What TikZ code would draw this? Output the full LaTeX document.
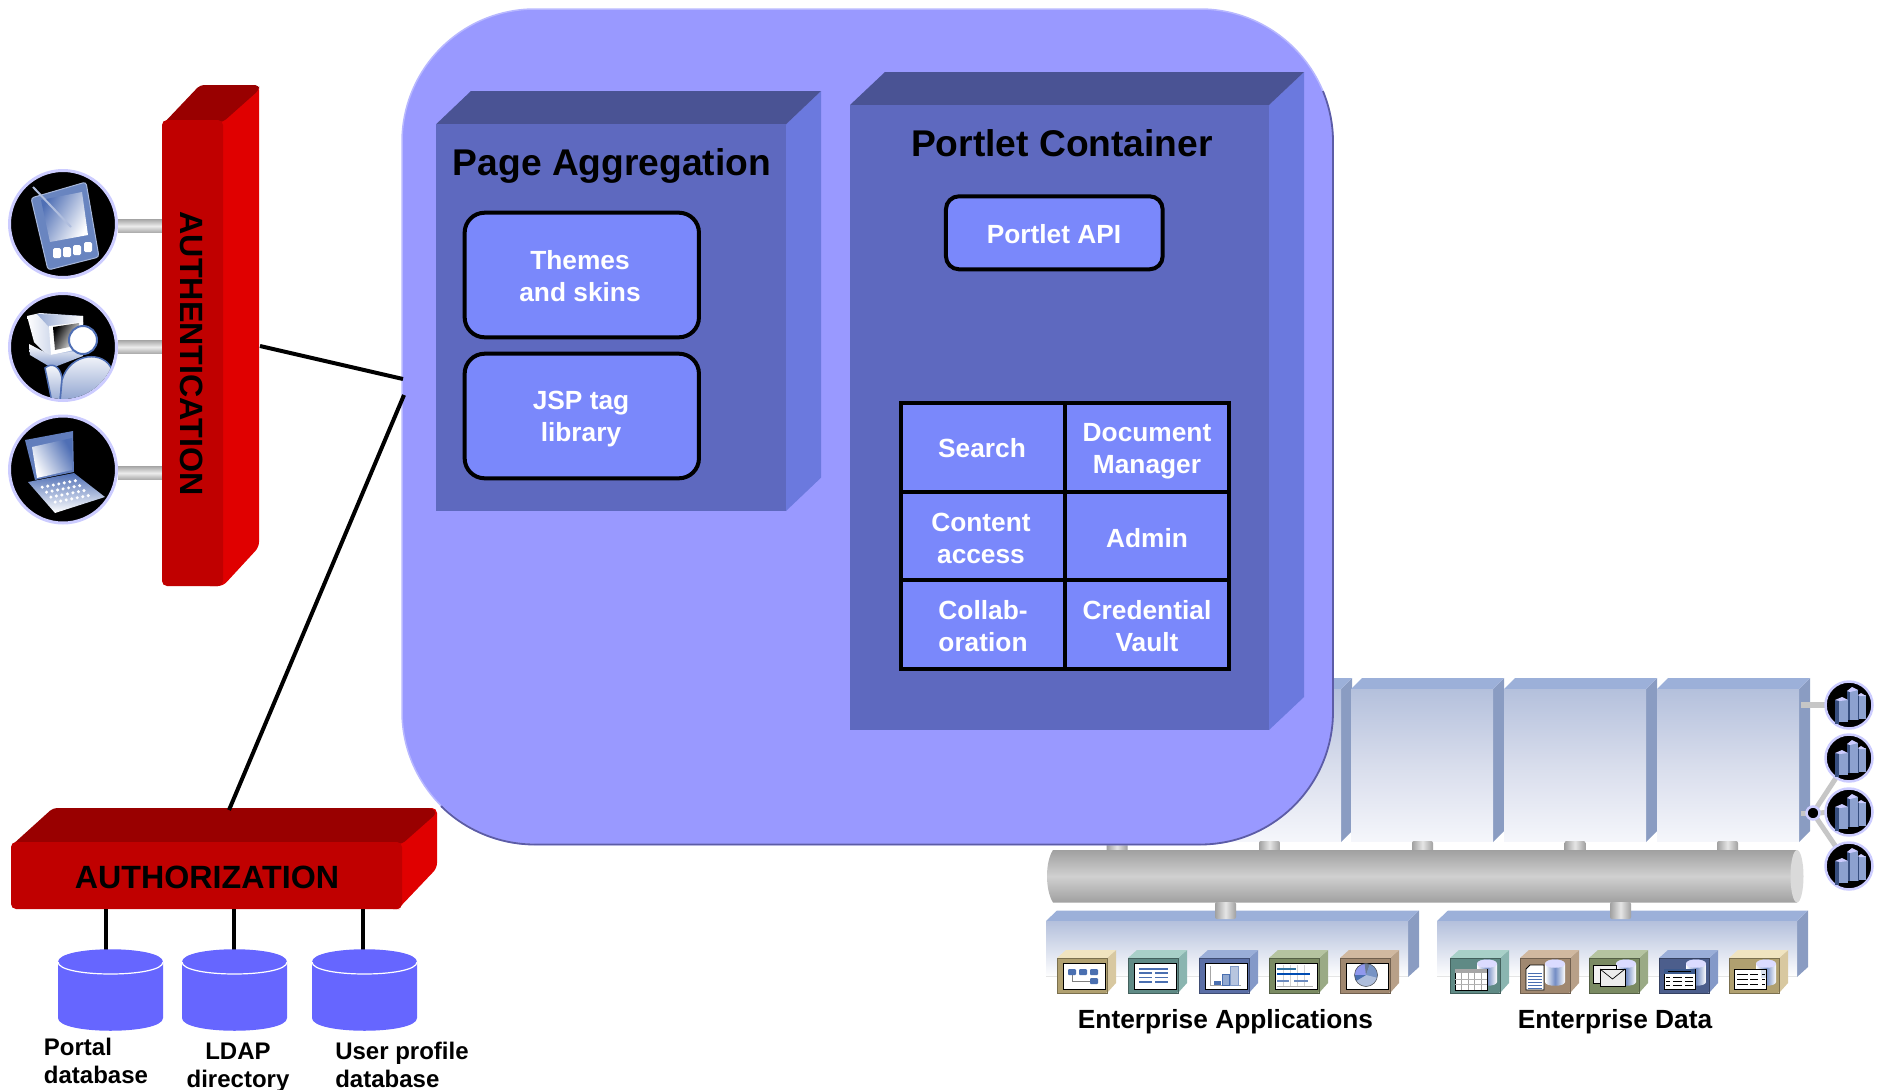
\documentclass[tikz,border=0pt]{standalone}
\usepackage{fontspec}
\setmainfont{Liberation Sans}
\definecolor{mainF}{HTML}{9999FF}
\definecolor{mainD}{HTML}{5C5CA6}
\definecolor{mainL}{HTML}{B8B8FF}
\definecolor{boxF}{HTML}{5E69BF}
\definecolor{boxT}{HTML}{4A5394}
\definecolor{boxS}{HTML}{6B79DE}
\definecolor{inner}{HTML}{7A88FB}
\definecolor{redF}{HTML}{C00000}
\definecolor{redS}{HTML}{E00000}
\definecolor{redT}{HTML}{990000}
\definecolor{dbF}{HTML}{6666FF}
\definecolor{ring}{HTML}{CCCCFF}
\definecolor{colT}{HTML}{9CB0D9}
\definecolor{colS}{HTML}{8A9CC2}
\definecolor{colA}{HTML}{B4C0DC}
\definecolor{colM}{HTML}{D8DDEC}
\definecolor{colB}{HTML}{F5F6FB}
\definecolor{busE}{HTML}{A0A0A0}
\definecolor{busM}{HTML}{D0D0D0}
\definecolor{busC}{HTML}{DADADA}
\definecolor{iconB}{HTML}{4F6FB5}
\definecolor{chart}{HTML}{4A6FB0}
\definecolor{tanF}{HTML}{B0A070}\definecolor{tanT}{HTML}{F0E4C0}\definecolor{tanS}{HTML}{D8C8A0}
\definecolor{tealF}{HTML}{5F8A85}\definecolor{tealT}{HTML}{A8D0C8}\definecolor{tealS}{HTML}{8AB5B0}
\definecolor{bluF}{HTML}{5A6EA5}\definecolor{bluT}{HTML}{9AAED8}\definecolor{bluS}{HTML}{8499C8}
\definecolor{grnF}{HTML}{7A8A62}\definecolor{grnT}{HTML}{B5C4A0}\definecolor{grnS}{HTML}{9AAA85}
\definecolor{brnF}{HTML}{A08870}\definecolor{brnT}{HTML}{D0B8A0}\definecolor{brnS}{HTML}{B8A088}
\tikzset{
  x=1pt,y=-1pt,
  big/.style={font=\bfseries\fontsize{37.2}{44}\selectfont,inner sep=0pt,text=black},
  bar/.style={font=\bfseries\fontsize{32.2}{38}\selectfont,inner sep=0pt,text=black},
  wtxt/.style={font=\bfseries\fontsize{26.3}{32}\selectfont,inner sep=0pt,text=white,align=center},
  btxt/.style={font=\bfseries\fontsize{24}{28}\selectfont,inner sep=0pt,text=black},
  etxt/.style={font=\bfseries\fontsize{26.3}{31}\selectfont,inner sep=0pt,text=black},
  rbox/.style={draw=black,line width=4pt,fill=inner,rounded corners=20pt,inner sep=0pt},
  cell/.style={draw=black,line width=4pt,fill=inner,inner sep=0pt,minimum height=88.7pt,minimum width=163.7pt},
  wire/.style={draw=black,line width=4pt},
  graystub/.style={shading=axis,left color=busE,right color=busE,middle color=gray!20,shading angle=90},
  graystubh/.style={top color=busE!90,bottom color=busE!90,middle color=gray!15},
}
% prism: x1 y1 x2 y2 dx dy front top side
\newcommand\pvPrism[9]{%
  \fill[#8] (#3,#2)--(#3+#5,#2-#6)--(#3+#5,#4-#6)--(#3,#4)--cycle;
  \fill[#9] (#1,#2)--(#1+#5,#2-#6)--(#3+#5,#2-#6)--(#3,#2)--cycle;
  \fill[#7] (#1,#2) rectangle (#3,#4);}
\newcommand\pvIcon[4]{%
  \fill[#3] (50,0)--(59,-8)--(59,25)--(50,35)--cycle;
  \fill[#4] (0,0)--(9,-8)--(59,-8)--(50,0)--cycle;
  \fill[#2,rounded corners=1pt] (0,0) rectangle (50,35);
  \draw[#1!70!black,line width=.5pt] (0,0) rectangle (50,35);}
\newcommand\pvScreen{\fill[white,draw=black,line width=1pt] (6,5) rectangle (48,31);}
\newcommand\pvDb[1]{%
  \shade[left color=white,right color=white,middle color=iconB!80,shading angle=90]
    (#1,6) .. controls (#1,0) and (#1+20,0) .. (#1+20,6) -- (#1+20,24)
    .. controls (#1+20,29) and (#1,29) .. (#1,24) -- cycle;
  \fill[ring!70!white] (#1,6) .. controls (#1,0) and (#1+20,0) .. (#1+20,6) .. controls (#1+20,11) and (#1,11) .. (#1,6) -- cycle;}
\newcommand\pvBuild[2]{%
  \begin{scope}[shift={(#1,#2)}]
    \fill[black] (0,0) circle[radius=23.5pt];
    \draw[ring,line width=2.5pt] (0,0) circle[radius=23.5pt];
    \fill[iconB!70!black] (-2,-14) rectangle (1,15);
    \fill[iconB!65!white] (1,-15) rectangle (9,15);
    \fill[ring] (-2,-14)--(3,-18)--(9,-15)--(1,-13)--cycle;
    \fill[iconB!70!black] (9,-10) rectangle (10,15);
    \fill[iconB!65!white] (10,-10) rectangle (17,14);
    \fill[ring] (9,-10)--(12,-12)--(17,-9)--(10,-9)--cycle;
    \fill[iconB!70!black] (-14,-5) rectangle (-10,19);
    \fill[iconB!65!white] (-10,-5) rectangle (-1,17);
    \fill[ring] (-14,-5)--(-7,-8)--(-1,-5)--(-9,-4)--cycle;
  \end{scope}}
\begin{document}
\begin{tikzpicture}
\useasboundingbox (0,0) rectangle (1883,1090);
% ---------- back-end columns
\foreach \cx in {1046,1199,1351,1504,1657}{
  \fill[colS] (\cx+142,689)--(\cx+153,678)--(\cx+153,831)--(\cx+142,842)--cycle;
  \fill[colT] (\cx,689)--(\cx+11,678)--(\cx+153,678)--(\cx+142,689)--cycle;
  \shade[top color=colA,bottom color=colB,middle color=colM] (\cx,689) rectangle (\cx+142,841.5);
}
\foreach \sx in {1117,1269.5,1422.5,1575,1727.5}{
  \shade[graystub,rounded corners=2pt] (\sx-10.5,841) rectangle (\sx+10.5,856);
}
% ---------- bus
\shade[top color=busE,bottom color=busE,middle color=busM] (1053,850) .. controls (1045,862) and (1045,890) .. (1053,902.5) -- (1797,902.5) -- (1797,850) -- cycle;
\fill[busC] (1797,876.25) ellipse[x radius=6.5pt,y radius=26.25pt];
% ---------- lower boxes
\fill[colS] (1408,921)--(1419,910.5)--(1419,967)--(1408,977)--cycle;
\fill[colT] (1046,921)--(1057,910.5)--(1419,910.5)--(1408,921)--cycle;
\shade[top color=colA,bottom color=white] (1046,921) rectangle (1408,977);
\fill[gray!20] (1046,975.5) rectangle (1408,977);
\fill[colS] (1797,921)--(1808,910.5)--(1808,967)--(1797,977)--cycle;
\fill[colT] (1437,921)--(1448,910.5)--(1808,910.5)--(1797,921)--cycle;
\shade[top color=colA,bottom color=white] (1437,921) rectangle (1797,977);
\fill[gray!20] (1437,975.5) rectangle (1797,977);
\shade[graystub,rounded corners=2pt] (1215,902) rectangle (1236,919);
\shade[graystub,rounded corners=2pt] (1610,902) rectangle (1631,919);
% ---------- application icons
\begin{scope}[shift={(1057,958)}]
  \pvIcon{tanF}{tanF}{tanS}{tanT}\pvScreen
  \draw[gray,line width=.8pt] (15,16)--(15,23)--(34,23);
  \foreach \bx in {11,22,33}{\fill[chart,rounded corners=1pt] (\bx,11) rectangle (\bx+8,17);}
  \fill[chart,rounded corners=1pt] (33,20) rectangle (41,26);
\end{scope}
\begin{scope}[shift={(1128,958)}]
  \pvIcon{tealF}{tealF}{tealS}{tealT}\pvScreen
  \draw[chart,line width=1.3pt] (11,11)--(40,11);
  \foreach \ly in {15,19.5,24}{\draw[chart,line width=1.3pt] (11,\ly)--(24,\ly) (27,\ly)--(40,\ly);}
\end{scope}
\begin{scope}[shift={(1199,958)}]
  \pvIcon{bluF}{bluF}{bluS}{bluT}\pvScreen
  \draw[gray!70,line width=.6pt] (11,8)--(11,27)--(42,27);
  \fill[chart] (15,23) rectangle (22,27);
  \fill[chart!60,draw=chart,line width=.4pt] (23,16) rectangle (30,27);
  \fill[chart!40,draw=chart!70,line width=.4pt] (31,8) rectangle (39,27);
\end{scope}
\begin{scope}[shift={(1269,958)}]
  \pvIcon{grnF}{grnF}{grnS}{grnT}\pvScreen
  \foreach \gx in {14,21,28,35}{\draw[gray!35,line width=.5pt] (\gx,7)--(\gx,29);}
  \draw[gray!60,line width=.5pt] (8,28)--(44,28);
  \fill[chart!70!teal] (8,9.5) rectangle (27,11.5);
  \fill[blue!40!teal] (8,15) rectangle (41,17);
  \fill[chart!80] (8,21.5) rectangle (20,23.5);
  \fill[chart!80] (25,21.5) rectangle (39,23.5);
\end{scope}
\begin{scope}[shift={(1340,958)}]
  \pvIcon{brnF}{brnF}{brnS}{brnT}\pvScreen
  \begin{scope}
    \clip (26,17) circle[radius=11.5pt];
    \fill[chart!65] (26,17) circle[radius=12pt];
    \fill[chart!45!blue!50] (26,17)--(24,0)--(10,0)--(10,17)--(14,17)--cycle;
    \fill[chart!40!gray] (26,17)--(24,0)--(32,0)--cycle;
    \fill[chart!75] (26,17)--(32,0)--(42,0)--(42,21)--cycle;
    \fill[chart!45] (26,17)--(42,21)--(38,32)--(14,32)--(16,23)--cycle;
    \fill[chart] (26,17)--(16,23)--(10,28)--(10,17)--(14,17)--cycle;
  \end{scope}
  \draw[black!70,line width=.5pt] (26,17) circle[radius=11.5pt];
\end{scope}
% ---------- data icons
\begin{scope}[shift={(1450,958)}]
  \pvIcon{tealF}{tealF}{tealS}{tealT}\pvDb{27}
  \fill[white,draw=black,line width=.8pt] (5,11) rectangle (37,32);
  \fill[gray!70] (5,11) rectangle (37,15);
  \foreach \gx in {11.5,18,24.5,31}{\draw[gray!70,line width=.5pt] (\gx,11)--(\gx,32);}
  \draw[gray!60,line width=.5pt] (5,21)--(37,21) (5,26.5)--(37,26.5);
\end{scope}
\begin{scope}[shift={(1520,958)}]
  \pvIcon{brnF}{brnF}{brnS}{brnT}\pvDb{25}
  \fill[white,draw=black,line width=.8pt] (10,7)--(24,7)--(24,32)--(6,32)--(6,11)--cycle;
  \foreach \ly in {15,18,21,24,27,30}{\draw[chart,line width=1pt] (8,\ly)--(22,\ly);}
\end{scope}
\begin{scope}[shift={(1589,958)}]
  \pvIcon{grnF}{grnF}{grnS}{grnT}\pvDb{27}
  \fill[gray!10,draw=black,line width=.6pt] (4,7) rectangle (27,25);
  \fill[gray!15,draw=black,line width=.6pt] (11,11) rectangle (36,28);
  \draw[black,line width=.7pt] (11,11)--(23.5,21)--(36,11);
\end{scope}
\begin{scope}[shift={(1659,958)}]
  \pvIcon{bluF!85!black}{bluF!85!black}{bluS}{bluT}\pvDb{27}
  \fill[white,draw=black,line width=.8pt] (5,11) rectangle (36,31);
  \fill[chart!80!black] (5,11) rectangle (36,16);
  \draw[black,line width=.8pt] (9,13.5)--(32,13.5);
  \foreach \ly in {19,23,27}{\draw[black,line width=1pt] (7,\ly)--(11,\ly) (14,\ly)--(23,\ly) (26,\ly)--(34,\ly);}
\end{scope}
\begin{scope}[shift={(1729,958)}]
  \pvIcon{tanF}{tanF}{tanS}{tanT}\pvDb{27}
  \fill[white,draw=black,line width=.8pt] (5,11) rectangle (37,31);
  \fill[chart!20] (32,12) rectangle (37,20);
  \foreach \ly in {16,21,26}{\draw[black,line width=1pt] (8,\ly)--(19,\ly) (21,\ly)--(29,\ly) (33,\ly)--(36,\ly);}
\end{scope}
\node[etxt,anchor=base] (entapps) at (1225.5,1028) {Enterprise Applications};
\node[etxt,anchor=base] (entdata) at (1615,1028) {Enterprise Data};
% ---------- right-hand servers
\coordinate (jct) at (1813,813);
\coordinate (colR) at (1801,813);
\coordinate (colT1) at (1801,705);
\coordinate (srv1) at (1849,705);
\coordinate (srv2) at (1849,758);
\coordinate (srv3) at (1849,812);
\coordinate (srv4) at (1849,866);
\draw[gray!45,line width=6pt] (colT1)--(srv1);
\draw[gray!45,line width=5pt] (colR)--(jct);
\draw[gray!45,line width=5pt] (jct)--(srv2);
\draw[gray!45,line width=5pt] (jct)--(srv3);
\draw[gray!45,line width=5pt] (jct)--(srv4);
\pvBuild{1849}{705}\pvBuild{1849}{758}\pvBuild{1849}{812}\pvBuild{1849}{866}
\fill[black] (jct) circle[radius=6pt];
\draw[ring,line width=2.5pt] (jct) circle[radius=6.5pt];
% ---------- main rounded box
\node[rectangle,draw=mainL,line width=1.5pt,fill=mainF,rounded corners=133pt,minimum width=931pt,minimum height=835.5pt,inner sep=0pt] (main) at (867.5,426.75) {};
\draw[mainD,line width=1.8pt] (1322.9,91.1) .. controls (1329.6,107.3) and (1333,124.5) .. (1333,142) -- (1333,711.5) .. controls (1333,785) and (1273.5,844.5) .. (1200,844.5) -- (535,844.5) .. controls (499,844.5) and (465,830) .. (441,806);
% ---------- page aggregation
\pvPrism{436}{124.3}{786}{511}{35}{33.3}{boxF}{boxS}{boxT}
\node[big,anchor=base] (pageagg) at (612,175) {Page Aggregation};
\node[rbox,minimum width=234.3pt,minimum height=124.6pt] (themes) at (581.8,275) {};
\node[wtxt,anchor=base] (themestxt) at (580,301) {Themes\\and skins};
\node[rbox,minimum width=234.3pt,minimum height=124.6pt] (jsp) at (581.8,416) {};
\node[wtxt,anchor=base] (jsptxt) at (581,441) {JSP tag\\library};
% ---------- portlet container
\pvPrism{850}{105}{1269}{730}{35}{33}{boxF}{boxS}{boxT}
\node[big,anchor=base] (portlet) at (1062,156) {Portlet Container};
\node[rbox,rounded corners=13pt,minimum width=216.7pt,minimum height=73pt] (api) at (1054.3,232.8) {};
\node[wtxt,anchor=base] (apitxt) at (1054,243) {Portlet API};
% table
\node[cell] (c11) at (983.2,447.2) {};
\node[cell] (c12) at (1146.9,447.2) {};
\node[cell] (c21) at (983.2,535.9) {};
\node[cell] (c22) at (1146.9,535.9) {};
\node[cell] (c31) at (983.2,624.6) {};
\node[cell] (c32) at (1146.9,624.6) {};
\node[wtxt,anchor=base] (t11) at (982,457) {Search};
\node[wtxt,anchor=base] (t12) at (1147,473) {Document\\Manager};
\node[wtxt,anchor=base] (t21) at (981,563) {Content\\access};
\node[wtxt,anchor=base] (t22) at (1147,547) {Admin};
\node[wtxt,anchor=base] (t31) at (983,651) {Collab-\\oration};
\node[wtxt,anchor=base] (t32) at (1147,651) {Credential\\Vault};
% ---------- authentication bar
\foreach \cy/\sy in {224/226,347/347,469.5/473}{
  \shade[graystubh] (118,\sy-6.5) rectangle (163,\sy+6.5);
  \fill[black] (63,\cy) circle[radius=53.5pt];
  \draw[ring,line width=3pt] (63,\cy) circle[radius=53.5pt];
}
\fill[redS,rounded corners=5pt] (205,120)--(205,85)--(259,85)--(259,547)--(223,586)--(205,586)--cycle;
\fill[redT,rounded corners=4pt] (162,125)--(200,85)--(259,85)--(259,90)--(223,122)--cycle;
\fill[redF,rounded corners=5pt] (162,120) rectangle (223,586);
\node[bar,rotate=-90] (authtxt) at (192,353.5) {AUTHENTICATION};
\coordinate (authOut) at (260,346);
\coordinate (mainIn1) at (403,379);
\draw[wire] (authOut)--(mainIn1);
% PDA
\fill[iconB!85,draw=iconB!50,line width=1pt,rounded corners=3pt] (31,198)--(86,182)--(99,257)--(48,270)--cycle;
\shade[shading=axis,left color=iconB,right color=white,shading angle=60] (41,200)--(82,192)--(88,235)--(50,242)--cycle;
\foreach \bx/\by in {57/253,67/252,77/250,88/247}{\fill[white,rounded corners=1.5pt] (\bx-4,\by-5) rectangle (\bx+4,\by+5);}
\draw[iconB!45,line width=2pt] (33,187)--(71,227);
% desktop and user
\begin{scope}
  \clip (63,347) circle[radius=52pt];
  \shade[shading=axis,left color=white,right color=iconB!60,shading angle=90] (27,316)--(40,313)--(83,316)--(83,350)--(50,358)--(34,342)--cycle;
  \shade[shading=axis,left color=iconB!60,right color=white,shading angle=90] (37,314)--(83,316)--(83,324)--(49,327)--cycle;
  \fill[white] (49,326)--(83,322)--(83,348)--(51,355)--cycle;
  \shade[shading=axis,left color=black,right color=white,shading angle=60] (53,327)--(79,323)--(79,345)--(55,350)--cycle;
  \shade[top color=white,bottom color=iconB!70] (29,344)--(50,355)--(83,350)--(83,356)--(52,368)--(30,355)--cycle;
  \shade[top color=white,bottom color=iconB!60,draw=iconB,line width=1.5pt] (45,368) .. controls (52,362) and (60,366) .. (62,378) -- (60,402) -- (52,402) -- cycle;
  \shade[top color=white,bottom color=iconB!65,draw=iconB,line width=1.5pt] (62,380) .. controls (70,352) and (105,350) .. (112,370) -- (112,402) -- (60,402) -- cycle;
\end{scope}
\fill[white,draw=iconB,line width=2pt] (83,340) circle[radius=14pt];
% laptop
\fill[iconB!90] (25,440)--(73,431)--(74,472)--(35,480)--cycle;
\shade[shading=axis,left color=white,right color=iconB,shading angle=120] (32,447)--(72,438)--(72,470)--(37,478)--cycle;
\shade[top color=iconB,bottom color=white] (28,482)--(74,473)--(105,497)--(55,513)--cycle;
\foreach \u in {.18,.3,.42,.54,.66,.78,.9}{\foreach \v in {.22,.38,.54,.7}{
  \pgfmathsetmacro\kx{28+46*\u+27*\v}\pgfmathsetmacro\ky{482-9*\u+31*\v}
  \fill[white] (\kx,\ky) circle[radius=1.7pt];}}
% ---------- authorization bar
\fill[redS,rounded corners=5pt] (395,842)--(395,808)--(437,808)--(437,868)--(398,909)--(395,909)--cycle;
\fill[redT,rounded corners=4pt] (11,846)--(53,808)--(432,808)--(437,813)--(402,844)--cycle;
\fill[redF,rounded corners=5pt] (11,842) rectangle (402,909);
\node[bar,anchor=base] (authz) at (207,888) {AUTHORIZATION};
\coordinate (authzTop) at (229,810);
\coordinate (mainIn2) at (404,395);
\draw[wire] (authzTop)--(mainIn2);
% ---------- databases
\foreach \n/\l/\r/\w in {1/58/163/106,2/182/287/234,3/312/417/363}{
  \coordinate (az\n) at (\w,909);
  \coordinate (db\n) at (\w,950);
  \draw[wire] (az\n)--(db\n);
  \fill[dbF] (\l,962) .. controls (\l,945) and (\r,945) .. (\r,962) -- (\r,1018) .. controls (\r,1035) and (\l,1035) .. (\l,1018) -- cycle;
  \draw[white,line width=1.2pt] (\l,962) .. controls (\l,978) and (\r,978) .. (\r,962);
}
\node[btxt,anchor=base,align=left] (lab1) at (96,1083) {Portal\\database};
\node[btxt,anchor=base,align=center] (lab2) at (238,1087) {LDAP\\directory};
\node[btxt,anchor=base,align=left] (lab3) at (402,1087) {User profile\\database};
\end{tikzpicture}
\end{document}
